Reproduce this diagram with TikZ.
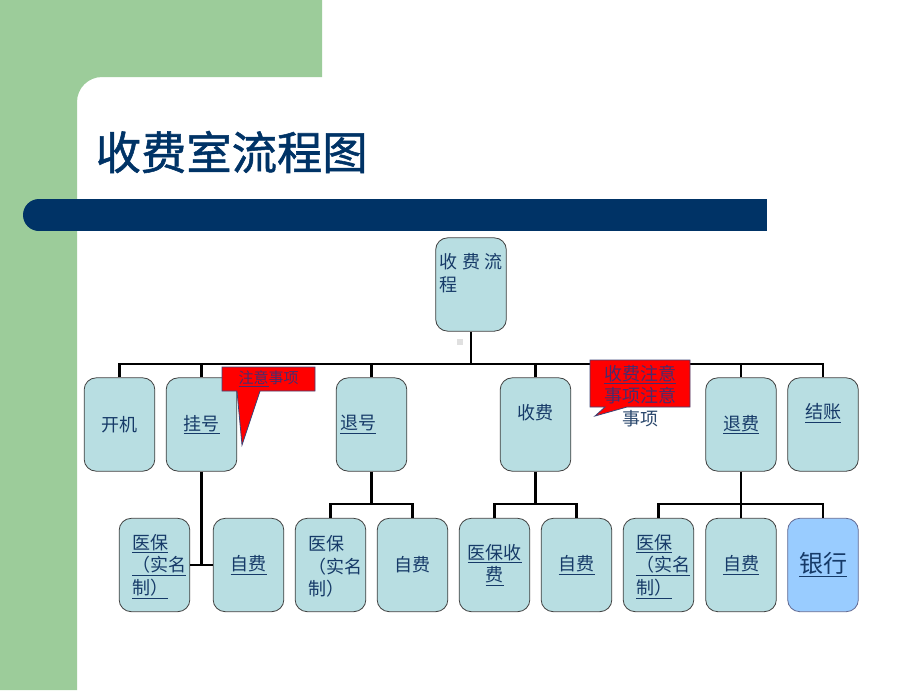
\documentclass[tikz,border=0pt]{standalone}
\usepackage{fontspec}
\setmainfont{Noto Sans CJK SC}
\newfontfamily\titlefont[FakeBold=1.2]{Noto Sans CJK SC}
\usepackage{xcolor}
\usetikzlibrary{positioning, calc}

\definecolor{slidegreen}{RGB}{156,204,154}
\definecolor{slidenavy}{RGB}{0,51,102}
\definecolor{boxfill}{RGB}{184,222,226}
\definecolor{bankfill}{RGB}{153,204,255}
\definecolor{boxtext}{RGB}{22,58,104}
\definecolor{notetext}{RGB}{70,45,110}
\definecolor{notebord}{RGB}{60,70,120}

\begin{document}
\begin{tikzpicture}[x=0.75pt, y=-0.75pt,
        txt/.style={
            text=boxtext,
            font=\fontsize{13.5}{17}\selectfont,
            align=center
        },
        box/.style={
            rectangle,
            rounded corners=9pt,
            draw=black!75,
            fill=boxfill,
            line width=0.6pt,
            minimum width=53pt,
            minimum height=70pt,
            inner sep=3pt,
            txt
        },
        bus/.style={line width=2.2pt, black},
        note/.style={
            text=notetext,
            font=\fontsize{11.25}{14}\selectfont,
            inner sep=1pt
        },
        balloon/.style={fill=red, draw=notebord, line width=0.6pt}
    ]

    % slide background
    \useasboundingbox (0,0) rectangle (920,690);
    \fill[white] (0,0) rectangle (920,690);
    \fill[slidegreen] (0,0) -- (322,0) -- (322,77) -- (102,77)
        arc[start angle=90, end angle=180, radius=18.75pt] -- (77,690) -- (0,690) -- cycle;
    \fill[slidenavy] (39,199) rectangle (767,231);
    \fill[slidenavy] (39,215) circle[radius=12pt];

    \node[anchor=west, text=slidenavy, font=\fontsize{34}{40}\titlefont] (title) at (91,152) {收费室流程图};

    % top
    \node[box, label={[txt, anchor=north west, align=left, yshift=-8.5pt]north west:收 费 流\\程}] (liucheng) at (471,284.5) {};
    \fill[black!12] (457,339) rectangle (463,345);

    % first row
    \node[box] (kaiji) at (119.5,424.5) {开机};
    \node[box] (guahao) at (201.5,424.5) {\underline{挂号}};
    \node[box, label={[txt, anchor=west]west:\underline{退号}}] (tuihao) at (371.5,424.5) {};
    \node[box, label={[txt, yshift=8.6pt]center:收费}] (shoufei) at (535.5,424.5) {};
    \node[box] (tuifei) at (741,424.5) {\underline{退费}};
    \node[box, label={[txt, yshift=8.6pt]center:\underline{结账}}] (jiezhang) at (823,424.5) {};

    % second row
    \node[box, label={[txt, align=left, xshift=3.5pt, yshift=-1pt]center:\underline{医保}\\\underline{（实名}\\\underline{制）}}] (yibao1) at (154.5,565) {};
    \node[box] (zifei1) at (248.5,565) {\underline{自费}};
    \node[box, label={[txt, align=left, xshift=3.5pt, yshift=-1pt]center:医保\\（实名\\制）}] (yibao2) at (330.5,565) {};
    \node[box] (zifei2) at (412.5,565) {自费};
    \node[box] (yibao3) at (494.5,565) {\underline{医保收}\\\underline{费}};
    \node[box] (zifei3) at (576.5,565) {\underline{自费}};
    \node[box, label={[txt, align=left, xshift=3.5pt, yshift=-1pt]center:\underline{医保}\\\underline{（实名}\\\underline{制）}}] (yibao4) at (658.5,565) {};
    \node[box] (zifei4) at (741,565) {\underline{自费}};
    \node[box, fill=bankfill, draw=notebord!80, font=\fontsize{18}{22}\selectfont] (yinhang) at (823,565) {\underline{银行}};

    % connectors
    \coordinate (bus1) at (471,364);
    \coordinate (bus2) at (471,504);
    \draw[bus] (liucheng.south) -- (bus1);
    \draw[bus] (kaiji.north) |- (bus1) -| (jiezhang.north);
    \foreach \n in {guahao, tuihao, shoufei, tuifei}
        \draw[bus] (\n.north) -- (\n.north |- bus1);

    \draw[bus] (guahao.south) -- (guahao.south |- yibao1.east);
    \draw[bus] (yibao1.east) -- (zifei1.west);
    \draw[bus] (tuihao.south) -- (tuihao.south |- bus2);
    \draw[bus] (yibao2.north) |- (tuihao.south |- bus2) -| (zifei2.north);
    \draw[bus] (shoufei.south) -- (shoufei.south |- bus2);
    \draw[bus] (yibao3.north) |- (shoufei.south |- bus2) -| (zifei3.north);
    \draw[bus] (tuifei.south) -- (tuifei.south |- bus2);
    \draw[bus] (yibao4.north) |- (tuifei.south |- bus2) -| (yinhang.north);
    \draw[bus] (zifei4.north) -- (zifei4.north |- bus2);

    % callouts
    \draw[balloon] (222,367) -- (315,367) -- (315,391) -- (260,391) -- (242,445) -- (237,391) -- (222,391) -- cycle;
    \node[note] (zhuyi) at (268.5,379) {\underline{注意}事项};
    \draw[balloon] (590,360) -- (690,360) -- (690,407) -- (627,407) -- (595,416) -- (605,407) -- (590,407) -- cycle;
    \node[note, font=\fontsize{13.5}{17}\selectfont, align=center] (shoufeizhuyi) at (640,396) {\underline{收费注意}\\事项注意\\\textcolor{boxtext!80!gray}{事项}};

\end{tikzpicture}
\end{document}
